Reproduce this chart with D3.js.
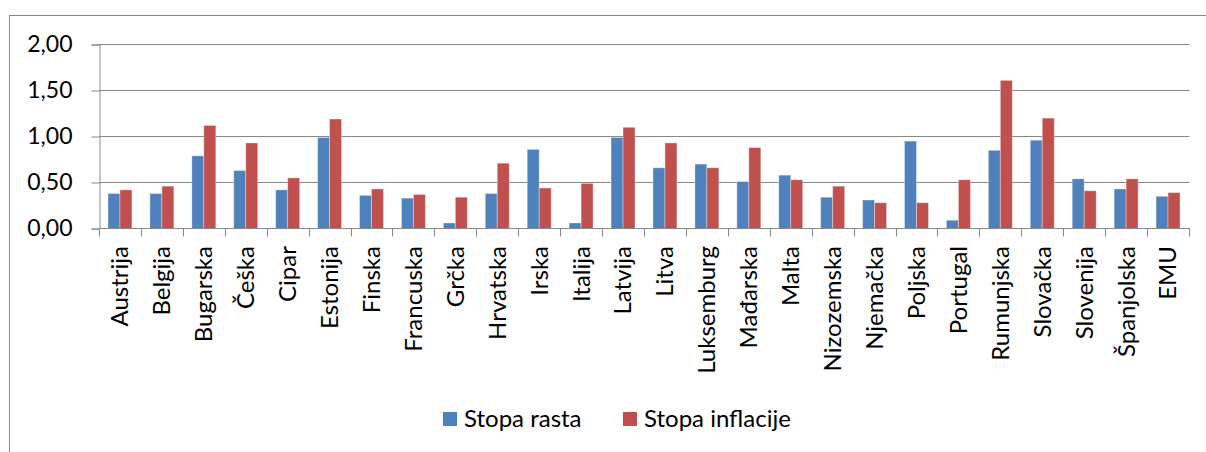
<!DOCTYPE html>
<html>
<head>
<meta charset="utf-8">
<script src="https://cdn.jsdelivr.net/npm/d3@7"></script>
<style>
  body { margin: 0; background: #fff; }
  svg text { font-family: Lato, "Open Sans", sans-serif; fill: #000; }
</style>
</head>
<body>
<svg id="chart" width="1206" height="452"></svg>
<script>
// countries and the two series
var countries = ["Austrija", "Belgija", "Bugarska", "Češka", "Cipar", "Estonija", "Finska", "Francuska",
  "Grčka", "Hrvatska", "Irska", "Italija", "Latvija", "Litva", "Luksemburg", "Mađarska", "Malta",
  "Nizozemska", "Njemačka", "Poljska", "Portugal", "Rumunjska", "Slovačka", "Slovenija", "Španjolska", "EMU"];
var stopaRasta = [0.38, 0.38, 0.79, 0.63, 0.42, 0.99, 0.36, 0.33, 0.06, 0.38, 0.86, 0.06, 0.99, 0.66,
  0.70, 0.51, 0.58, 0.34, 0.31, 0.95, 0.09, 0.85, 0.96, 0.54, 0.43, 0.35];
var stopaInflacije = [0.42, 0.46, 1.12, 0.93, 0.55, 1.19, 0.43, 0.37, 0.34, 0.71, 0.44, 0.49, 1.10, 0.93,
  0.66, 0.88, 0.53, 0.46, 0.28, 0.28, 0.53, 1.61, 1.20, 0.41, 0.54, 0.39];
var seriesNames = ["Stopa rasta", "Stopa inflacije"];
var yTicks = [0, 0.5, 1, 1.5, 2];

var colors = {"Stopa rasta": "#4F81BD", "Stopa inflacije": "#C0504D"};
var seriesValues = {"Stopa rasta": stopaRasta, "Stopa inflacije": stopaInflacije};

var svg = d3.select("#chart");

// chart frame (cut off at the right and bottom like the original)
svg.append("rect")
    .attr("x", 9.5).attr("y", 15.5)
    .attr("width", 1400).attr("height", 600)
    .attr("fill", "none")
    .attr("stroke", "#868686")
    .attr("stroke-width", 1);

var x = d3.scaleBand().domain(countries).range([99, 1189]),
    x1 = d3.scaleBand().domain(seriesNames).range([0, x.bandwidth()]).paddingOuter(0.75),
    y = d3.scaleLinear().domain([0, 2]).range([228.5, 44.5]);

var axisColor = "#878787";

// gridlines + y ticks
var yAxis = svg.append("g")
    .attr("transform", "translate(99.5,0)")
    .call(d3.axisLeft(y).tickValues(yTicks).tickSize(8).tickPadding(19)
        .tickFormat(function(d) { return d3.format(".2f")(d).replace(".", ","); }));
yAxis.select(".domain").attr("stroke", axisColor);
yAxis.selectAll(".tick line").attr("stroke", axisColor);
yAxis.selectAll(".tick text").style("font-size", "23px").attr("fill", "#000");

svg.append("g").selectAll("line")
    .data(yTicks)
    .enter().append("line")
    .attr("x1", 99.5).attr("x2", 1189.5)
    .attr("y1", function(d) { return y(d); })
    .attr("y2", function(d) { return y(d); })
    .attr("stroke", axisColor);

// bars
var groups = svg.append("g").selectAll("g")
    .data(countries)
    .enter().append("g")
    .attr("transform", function(d) { return "translate(" + x(d) + ",0)"; });

groups.selectAll("rect")
    .data(function(d, i) {
        return seriesNames.map(function(s) { return {key: s, value: seriesValues[s][i]}; });
    })
    .enter().append("rect")
    .attr("x", function(d) { return x1(d.key); })
    .attr("width", x1.bandwidth())
    .attr("y", function(d) { return y(d.value); })
    .attr("height", function(d) { return y(0) - y(d.value); })
    .attr("fill", function(d) { return colors[d.key]; })
    .attr("stroke", "rgba(255,255,255,0.35)")
    .attr("stroke-width", 1);

// x axis line with ticks between categories
svg.append("line")
    .attr("x1", 99).attr("x2", 1190)
    .attr("y1", y(0)).attr("y2", y(0))
    .attr("stroke", axisColor);

var boundaries = countries.map(function(d) { return x(d); }).concat([x.range()[1]]);
svg.append("g").selectAll("line")
    .data(boundaries)
    .enter().append("line")
    .attr("x1", function(d) { return Math.round(d) + 0.5; })
    .attr("x2", function(d) { return Math.round(d) + 0.5; })
    .attr("y1", y(0)).attr("y2", y(0) + 8)
    .attr("stroke", axisColor);

// rotated category labels
svg.append("g").selectAll("text")
    .data(countries)
    .enter().append("text")
    .attr("transform", function(d) {
        return "translate(" + (x(d) + x.bandwidth() / 2) + ",246) rotate(-90)";
    })
    .attr("text-anchor", "end")
    .attr("dy", "0.35em")
    .style("font-size", "24px")
    .text(function(d) { return d; });

// legend
var legendX = [443, 623];
var legend = svg.append("g").selectAll("g")
    .data(seriesNames)
    .enter().append("g")
    .attr("transform", function(d, i) { return "translate(" + legendX[i] + ",412)"; });

legend.append("rect")
    .attr("width", 14).attr("height", 14)
    .attr("fill", function(d) { return colors[d]; });

legend.append("text")
    .attr("x", 21).attr("y", 15)
    .style("font-size", "24px")
    .text(function(d) { return d; });
</script>
</body>
</html>
